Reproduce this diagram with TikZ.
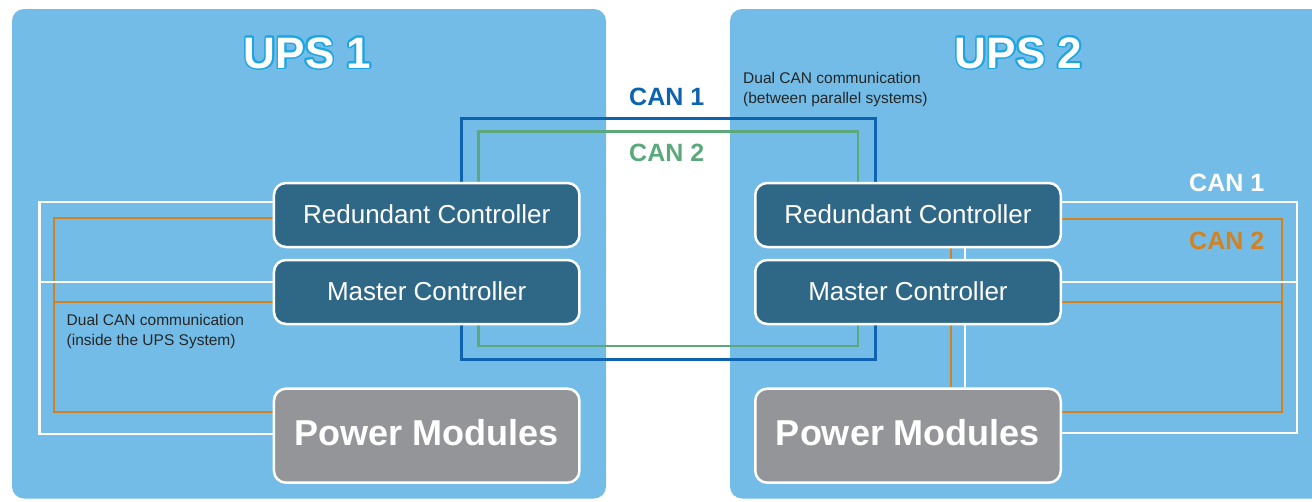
\documentclass[tikz,border=0pt]{standalone}
\usepackage{fontspec}
\setmainfont{Liberation Sans}
\usetikzlibrary{calc}
\definecolor{upsbg}{HTML}{73BCE7}
\definecolor{ctrl}{HTML}{2F6886}
\definecolor{pmgray}{HTML}{939598}
\definecolor{canblue}{HTML}{0D63AE}
\definecolor{cangreen}{HTML}{5BA97A}
\definecolor{canorange}{HTML}{D4811F}
\definecolor{titleline}{HTML}{1CA6E1}
\definecolor{darktext}{HTML}{262626}
\pgfdeclarelayer{back}
\pgfdeclarelayer{mid}
\pgfsetlayers{back,mid,main}
\begin{document}
\begin{tikzpicture}[x=1pt,y=-1pt,
  upsbox/.style={fill=upsbg, rounded corners=12pt},
  ctrlbox/.style={draw=white, line width=2.5pt, fill=ctrl, rounded corners=12pt,
    minimum width=305.5pt, minimum height=64pt, inner sep=0pt, text=white,
    font=\fontsize{26}{30}\selectfont, text depth=1.5pt},
  pmbox/.style={ctrlbox, fill=pmgray, minimum height=94pt,
    font=\fontsize{36}{40}\selectfont\bfseries, text depth=7pt},
  can1line/.style={draw=canblue, line width=3pt},
  can2line/.style={draw=cangreen, line width=2.5pt},
  wline/.style={draw=white, line width=2.2pt},
  oline/.style={draw=canorange, line width=2.2pt},
  canlbl/.style={font=\fontsize{25}{30}\selectfont\bfseries, inner sep=0pt, anchor=base west},
  desc/.style={font=\fontsize{15.5}{19.4}\selectfont, text=darktext, align=left, inner sep=0pt, anchor=north west},
  titletxt/.style={font=\fontsize{44}{50}\selectfont\bfseries, inner sep=0pt, anchor=base}
]
\useasboundingbox (0,0) rectangle (1312,501);
\begin{pgfonlayer}{back}
  \fill[white] (0,0) rectangle (1312,501);
  \fill[upsbox] (12,9) rectangle (606,498.5);
  \fill[upsbox] (730,9) rectangle (1340,498.5);
\end{pgfonlayer}

% titles
\foreach \a in {0,22.5,...,337.5} {
  \node[titletxt, text=titleline] at ($(307.5,68)+(\a:1.6pt)$) {UPS 1};
  \node[titletxt, text=titleline] at ($(1018.5,68)+(\a:1.6pt)$) {UPS 2};
}
\node[titletxt, text=white] (t1) at (307.5,68) {UPS 1};
\node[titletxt, text=white] (t2) at (1018.5,68) {UPS 2};

% nodes
\node[ctrlbox] (r1) at (426.7,215) {Redundant Controller};
\node[ctrlbox] (m1) at (426.7,292) {Master Controller};
\node[pmbox] (p1) at (426.7,435.7) {Power Modules};
\node[ctrlbox] (r2) at (908,215) {Redundant Controller};
\node[ctrlbox] (m2) at (908,292) {Master Controller};
\node[pmbox] (p2) at (908,435.7) {Power Modules};

% corner coordinates
\coordinate (b1) at (461,118.3);
\coordinate (b2) at (875,118.3);
\coordinate (b3) at (461,359);
\coordinate (b4) at (875,359);
\coordinate (g1) at (478.5,131.5);
\coordinate (g2) at (858,131.5);
\coordinate (g3) at (478.5,346);
\coordinate (g4) at (858,346);
\coordinate (wa) at (39.5,202.3);
\coordinate (wm) at (39.5,281.7);
\coordinate (wb) at (39.5,434);
\coordinate (oa) at (54,218.3);
\coordinate (om) at (54,301.7);
\coordinate (ob) at (54,411.7);
\coordinate (wa2) at (1296.7,202.3);
\coordinate (wm2) at (1296.7,282.3);
\coordinate (wb2) at (1296.7,433.3);
\coordinate (oa2) at (1281.7,218.7);
\coordinate (om2) at (1281.7,301.7);
\coordinate (ob2) at (1281.7,411.7);
\coordinate (ov) at (950.7,0);
\coordinate (wv) at (965.3,0);

\begin{pgfonlayer}{mid}
  % CAN between systems
  \draw[can1line] (r1.north -| b1) -- (b1) -- (b2) -- (r2.north -| b2);
  \draw[can1line] (m1.south -| b3) -- (b3) -- (b4) -- (m2.south -| b4);
  \draw[can2line] (r1.north -| g1) -- (g1) -- (g2) -- (r2.north -| g2);
  \draw[can2line] (m1.south -| g3) -- (g3) -- (g4) -- (m2.south -| g4);
  % UPS 1 internal
  \draw[oline] (r1.west |- oa) -- (oa) -- (ob) -- (p1.west |- ob);
  \draw[oline] (om) -- (m1.west |- om);
  \draw[wline] (r1.west |- wa) -- (wa) -- (wb) -- (p1.west |- wb);
  \draw[wline] (wm) -- (m1.west |- wm);
  % UPS 2 internal
  \draw[oline] (r2.south -| ov) -- (p2.north -| ov);
  \draw[wline] (r2.south -| wv) -- (p2.north -| wv);
  \draw[oline] (r2.east |- oa2) -- (oa2) -- (ob2) -- (p2.east |- ob2);
  \draw[oline] (om2) -- (m2.east |- om2);
  \draw[wline] (r2.east |- wa2) -- (wa2) -- (wb2) -- (p2.east |- wb2);
  \draw[wline] (wm2) -- (m2.east |- wm2);
\end{pgfonlayer}

% labels
\node[canlbl, text=canblue] (c1) at (629,105) {CAN 1};
\node[canlbl, text=cangreen] (c2) at (629,161.7) {CAN 2};
\node[canlbl, text=white] (c3) at (1189,191.7) {CAN 1};
\node[canlbl, text=canorange] (c4) at (1189,249) {CAN 2};
\node[desc] (d1) at (743,72.3) {Dual CAN communication\\(between parallel systems)};
\node[desc] (d2) at (66.5,314.5) {Dual CAN communication\\(inside the UPS System)};
\end{tikzpicture}
\end{document}
